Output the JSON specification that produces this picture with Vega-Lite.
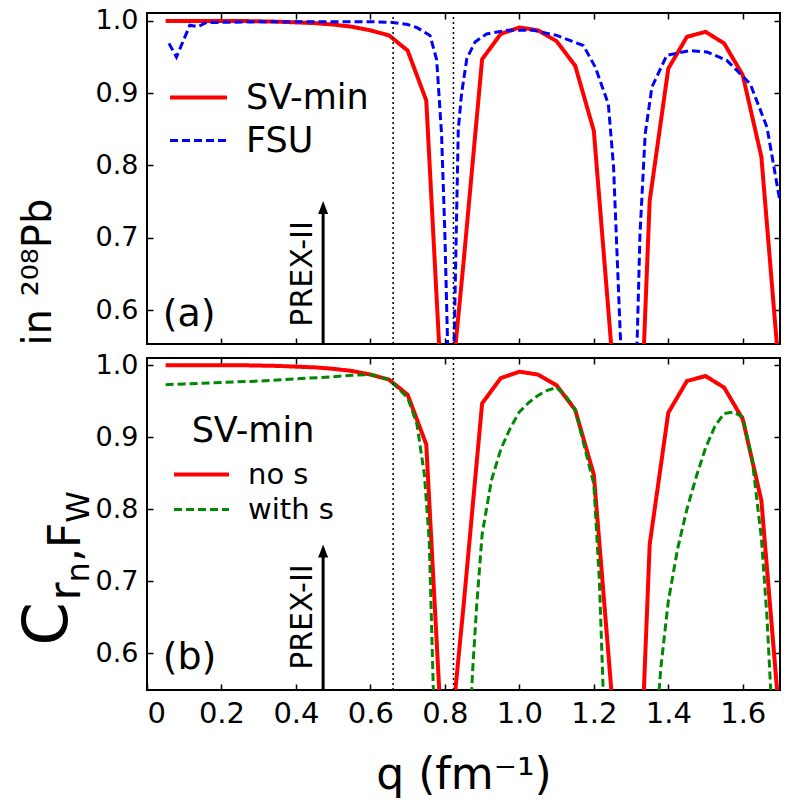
{
  "$schema": "https://vega.github.io/schema/vega-lite/v6.json",
  "autosize": "none",
  "padding": {"left": 147, "top": 13, "right": 641, "bottom": 792},
  "background": "white",
  "spacing": 3,
  "resolve": {"scale": {"color": "independent", "strokeDash": "independent", "strokeWidth": "independent"}, "legend": {"color": "independent", "strokeDash": "independent"}},
  "config": {
    "font": "DejaVu Sans",
    "view": {"stroke": "black", "strokeWidth": 2},
    "axis": {"domain": false, "grid": false, "tickColor": "black", "tickWidth": 1.5, "labelColor": "black", "titleColor": "black", "titleFontWeight": "normal", "labelFont": "DejaVu Sans", "titleFont": "DejaVu Sans"},
    "legend": {"labelFont": "DejaVu Sans", "titleFont": "DejaVu Sans", "labelColor": "black", "titleColor": "black", "titleFontWeight": "normal"},
    "text": {"font": "DejaVu Sans"}
  },
  "datasets": {
    "a": [
      {"q": 0.05, "C": 1.0, "series": "SV-min"}, {"q": 0.10, "C": 1.0, "series": "SV-min"}, {"q": 0.15, "C": 1.0, "series": "SV-min"}, {"q": 0.20, "C": 1.0, "series": "SV-min"}, {"q": 0.25, "C": 1.0, "series": "SV-min"}, {"q": 0.30, "C": 0.9995, "series": "SV-min"}, {"q": 0.35, "C": 0.999, "series": "SV-min"}, {"q": 0.40, "C": 0.998, "series": "SV-min"}, {"q": 0.45, "C": 0.997, "series": "SV-min"}, {"q": 0.50, "C": 0.995, "series": "SV-min"}, {"q": 0.55, "C": 0.992, "series": "SV-min"}, {"q": 0.60, "C": 0.987, "series": "SV-min"}, {"q": 0.65, "C": 0.980, "series": "SV-min"}, {"q": 0.70, "C": 0.959, "series": "SV-min"}, {"q": 0.75, "C": 0.890, "series": "SV-min"}, {"q": 0.80, "C": 0.40, "series": "SV-min"}, {"q": 0.85, "C": 0.665, "series": "SV-min"}, {"q": 0.90, "C": 0.947, "series": "SV-min"}, {"q": 0.95, "C": 0.982, "series": "SV-min"}, {"q": 1.00, "C": 0.991, "series": "SV-min"}, {"q": 1.05, "C": 0.987, "series": "SV-min"}, {"q": 1.10, "C": 0.972, "series": "SV-min"}, {"q": 1.15, "C": 0.938, "series": "SV-min"}, {"q": 1.20, "C": 0.848, "series": "SV-min"}, {"q": 1.25, "C": 0.53, "series": "SV-min"}, {"q": 1.30, "C": 0.10, "series": "SV-min"}, {"q": 1.35, "C": 0.751, "series": "SV-min"}, {"q": 1.40, "C": 0.934, "series": "SV-min"}, {"q": 1.45, "C": 0.978, "series": "SV-min"}, {"q": 1.50, "C": 0.985, "series": "SV-min"}, {"q": 1.55, "C": 0.969, "series": "SV-min"}, {"q": 1.60, "C": 0.925, "series": "SV-min"}, {"q": 1.65, "C": 0.812, "series": "SV-min"}, {"q": 1.70, "C": 0.50, "series": "SV-min"},
      {"q": 0.059, "C": 0.969, "series": "FSU"}, {"q": 0.079, "C": 0.950, "series": "FSU"}, {"q": 0.115, "C": 0.994, "series": "FSU"}, {"q": 0.137, "C": 0.992, "series": "FSU"}, {"q": 0.16, "C": 0.998, "series": "FSU"}, {"q": 0.20, "C": 0.998, "series": "FSU"}, {"q": 0.30, "C": 0.999, "series": "FSU"}, {"q": 0.40, "C": 0.999, "series": "FSU"}, {"q": 0.50, "C": 0.999, "series": "FSU"}, {"q": 0.60, "C": 0.999, "series": "FSU"}, {"q": 0.66, "C": 0.998, "series": "FSU"}, {"q": 0.70, "C": 0.995, "series": "FSU"}, {"q": 0.724, "C": 0.991, "series": "FSU"}, {"q": 0.76, "C": 0.980, "series": "FSU"}, {"q": 0.778, "C": 0.946, "series": "FSU"}, {"q": 0.791, "C": 0.844, "series": "FSU"}, {"q": 0.80, "C": 0.705, "series": "FSU"}, {"q": 0.817, "C": 0.35, "series": "FSU"}, {"q": 0.836, "C": 0.85, "series": "FSU"}, {"q": 0.845, "C": 0.90, "series": "FSU"}, {"q": 0.859, "C": 0.948, "series": "FSU"}, {"q": 0.881, "C": 0.971, "series": "FSU"}, {"q": 0.912, "C": 0.982, "series": "FSU"}, {"q": 0.966, "C": 0.987, "series": "FSU"}, {"q": 1.038, "C": 0.987, "series": "FSU"}, {"q": 1.10, "C": 0.980, "series": "FSU"}, {"q": 1.172, "C": 0.966, "series": "FSU"}, {"q": 1.204, "C": 0.936, "series": "FSU"}, {"q": 1.239, "C": 0.885, "series": "FSU"}, {"q": 1.253, "C": 0.798, "series": "FSU"}, {"q": 1.271, "C": 0.567, "series": "FSU"}, {"q": 1.295, "C": 0.35, "series": "FSU"}, {"q": 1.316, "C": 0.55, "series": "FSU"}, {"q": 1.324, "C": 0.705, "series": "FSU"}, {"q": 1.338, "C": 0.844, "series": "FSU"}, {"q": 1.356, "C": 0.9085, "series": "FSU"}, {"q": 1.396, "C": 0.9525, "series": "FSU"}, {"q": 1.459, "C": 0.959, "series": "FSU"}, {"q": 1.504, "C": 0.957, "series": "FSU"}, {"q": 1.557, "C": 0.9455, "series": "FSU"}, {"q": 1.62, "C": 0.913, "series": "FSU"}, {"q": 1.665, "C": 0.853, "series": "FSU"}, {"q": 1.70, "C": 0.75, "series": "FSU"}
    ],
    "b": [
      {"q": 0.05, "C": 1.0, "series": "no s"}, {"q": 0.10, "C": 1.0, "series": "no s"}, {"q": 0.15, "C": 1.0, "series": "no s"}, {"q": 0.20, "C": 1.0, "series": "no s"}, {"q": 0.25, "C": 1.0, "series": "no s"}, {"q": 0.30, "C": 0.9995, "series": "no s"}, {"q": 0.35, "C": 0.999, "series": "no s"}, {"q": 0.40, "C": 0.998, "series": "no s"}, {"q": 0.45, "C": 0.997, "series": "no s"}, {"q": 0.50, "C": 0.995, "series": "no s"}, {"q": 0.55, "C": 0.992, "series": "no s"}, {"q": 0.60, "C": 0.987, "series": "no s"}, {"q": 0.65, "C": 0.980, "series": "no s"}, {"q": 0.70, "C": 0.959, "series": "no s"}, {"q": 0.75, "C": 0.890, "series": "no s"}, {"q": 0.80, "C": 0.40, "series": "no s"}, {"q": 0.85, "C": 0.665, "series": "no s"}, {"q": 0.90, "C": 0.947, "series": "no s"}, {"q": 0.95, "C": 0.982, "series": "no s"}, {"q": 1.00, "C": 0.991, "series": "no s"}, {"q": 1.05, "C": 0.987, "series": "no s"}, {"q": 1.10, "C": 0.972, "series": "no s"}, {"q": 1.15, "C": 0.938, "series": "no s"}, {"q": 1.20, "C": 0.848, "series": "no s"}, {"q": 1.25, "C": 0.53, "series": "no s"}, {"q": 1.30, "C": 0.10, "series": "no s"}, {"q": 1.35, "C": 0.751, "series": "no s"}, {"q": 1.40, "C": 0.934, "series": "no s"}, {"q": 1.45, "C": 0.978, "series": "no s"}, {"q": 1.50, "C": 0.985, "series": "no s"}, {"q": 1.55, "C": 0.969, "series": "no s"}, {"q": 1.60, "C": 0.925, "series": "no s"}, {"q": 1.65, "C": 0.812, "series": "no s"}, {"q": 1.70, "C": 0.50, "series": "no s"},
      {"q": 0.05, "C": 0.973, "series": "with s"}, {"q": 0.10, "C": 0.974, "series": "with s"}, {"q": 0.20, "C": 0.976, "series": "with s"}, {"q": 0.30, "C": 0.978, "series": "with s"}, {"q": 0.40, "C": 0.981, "series": "with s"}, {"q": 0.50, "C": 0.984, "series": "with s"}, {"q": 0.55, "C": 0.986, "series": "with s"}, {"q": 0.60, "C": 0.987, "series": "with s"}, {"q": 0.65, "C": 0.980, "series": "with s"}, {"q": 0.70, "C": 0.955, "series": "with s"}, {"q": 0.725, "C": 0.918, "series": "with s"}, {"q": 0.745, "C": 0.848, "series": "with s"}, {"q": 0.758, "C": 0.756, "series": "with s"}, {"q": 0.77, "C": 0.53, "series": "with s"}, {"q": 0.82, "C": 0.2, "series": "with s"}, {"q": 0.87, "C": 0.53, "series": "with s"}, {"q": 0.875, "C": 0.58, "series": "with s"}, {"q": 0.885, "C": 0.663, "series": "with s"}, {"q": 0.90, "C": 0.765, "series": "with s"}, {"q": 0.925, "C": 0.84, "series": "with s"}, {"q": 0.95, "C": 0.883, "series": "with s"}, {"q": 0.975, "C": 0.912, "series": "with s"}, {"q": 1.00, "C": 0.935, "series": "with s"}, {"q": 1.025, "C": 0.948, "series": "with s"}, {"q": 1.05, "C": 0.958, "series": "with s"}, {"q": 1.075, "C": 0.965, "series": "with s"}, {"q": 1.10, "C": 0.969, "series": "with s"}, {"q": 1.125, "C": 0.957, "series": "with s"}, {"q": 1.15, "C": 0.938, "series": "with s"}, {"q": 1.20, "C": 0.835, "series": "with s"}, {"q": 1.215, "C": 0.70, "series": "with s"}, {"q": 1.225, "C": 0.55, "series": "with s"}, {"q": 1.30, "C": 0.2, "series": "with s"}, {"q": 1.376, "C": 0.553, "series": "with s"}, {"q": 1.38, "C": 0.58, "series": "with s"}, {"q": 1.40, "C": 0.672, "series": "with s"}, {"q": 1.425, "C": 0.745, "series": "with s"}, {"q": 1.45, "C": 0.80, "series": "with s"}, {"q": 1.475, "C": 0.845, "series": "with s"}, {"q": 1.50, "C": 0.885, "series": "with s"}, {"q": 1.525, "C": 0.915, "series": "with s"}, {"q": 1.55, "C": 0.933, "series": "with s"}, {"q": 1.575, "C": 0.935, "series": "with s"}, {"q": 1.60, "C": 0.928, "series": "with s"}, {"q": 1.625, "C": 0.87, "series": "with s"}, {"q": 1.65, "C": 0.76, "series": "with s"}, {"q": 1.665, "C": 0.65, "series": "with s"}, {"q": 1.675, "C": 0.55, "series": "with s"}, {"q": 1.70, "C": 0.3, "series": "with s"}
    ],
    "vlines": [{"q": 0.661}, {"q": 0.823}],
    "one": [{"k": 1}]
  },
  "vconcat": [
    {
      "width": 633,
      "height": 331,
      "layer": [
        {
          "data": {"name": "a"},
          "mark": {"type": "line", "clip": true},
          "encoding": {
            "x": {"field": "q", "type": "quantitative", "scale": {"domain": [0, 1.7], "nice": false, "zero": false},
              "axis": {"orient": "bottom", "values": [0.2, 0.4, 0.6, 0.8, 1.0, 1.2, 1.4, 1.6], "labels": false, "title": null, "tickSize": -6}},
            "y": {"field": "C", "type": "quantitative", "scale": {"domain": [0.553, 1.011], "nice": false, "zero": false},
              "axis": {"orient": "left", "values": [0.6, 0.7, 0.8, 0.9, 1.0], "format": ".1f", "tickSize": -6, "labelPadding": 15, "labelFontSize": 27,
                "title": "in ²⁰⁸Pb", "titleFontSize": 40, "titleAngle": 270, "titleX": -97, "titleY": 332, "titleAlign": "left", "titleBaseline": "alphabetic"}},
            "color": {"field": "series", "type": "nominal", "scale": {"domain": ["SV-min", "FSU"], "range": ["#ff0000", "#0000ff"]},
              "legend": {"orient": "none", "legendX": 21, "legendY": 63, "title": null, "symbolType": "stroke", "symbolSize": 3249, "symbolStrokeWidth": 4, "labelFontSize": 35, "labelOffset": 17, "clipHeight": 43, "rowPadding": 0, "padding": 0}},
            "strokeDash": {"field": "series", "type": "nominal", "scale": {"domain": ["SV-min", "FSU"], "range": [[1, 0], [8, 4]]},
              "legend": {"orient": "none", "legendX": 21, "legendY": 63, "title": null, "symbolType": "stroke", "symbolSize": 3249, "symbolStrokeWidth": 4, "labelFontSize": 35, "labelOffset": 17, "clipHeight": 43, "rowPadding": 0, "padding": 0}},
            "strokeWidth": {"field": "series", "type": "nominal", "scale": {"domain": ["SV-min", "FSU"], "range": [4, 3]}, "legend": null}
          }
        },
        {
          "data": {"name": "vlines"},
          "mark": {"type": "rule", "strokeDash": [2, 3], "strokeWidth": 1.5, "color": "black"},
          "encoding": {
            "x": {"field": "q", "type": "quantitative", "scale": {"domain": [0, 1.7], "nice": false, "zero": false},
              "axis": {"orient": "top", "values": [0.2, 0.4, 0.6, 0.8, 1.0, 1.2, 1.4, 1.6], "labels": false, "title": null, "tickSize": -6}},
            "y": {"datum": 0.553, "type": "quantitative", "scale": {"domain": [0.553, 1.011], "nice": false, "zero": false},
              "axis": {"orient": "right", "values": [0.6, 0.7, 0.8, 0.9, 1.0], "labels": false, "title": null, "tickSize": -6}},
            "y2": {"datum": 1.011}
          }
        },
        {
          "data": {"name": "one"},
          "mark": {"type": "rule", "strokeWidth": 3, "color": "black"},
          "encoding": {
            "x": {"datum": 0.473, "type": "quantitative", "scale": {"domain": [0, 1.7], "nice": false, "zero": false}, "axis": null},
            "y": {"datum": 0.553, "type": "quantitative", "scale": {"domain": [0.553, 1.011], "nice": false, "zero": false}, "axis": null},
            "y2": {"datum": 0.735}
          }
        },
        {
          "data": {"name": "one"},
          "mark": {"type": "point", "shape": "M0,-1.3L-0.5,0L0.5,0Z", "size": 400, "filled": true, "color": "black", "opacity": 1},
          "encoding": {
            "x": {"datum": 0.473, "type": "quantitative", "scale": {"domain": [0, 1.7], "nice": false, "zero": false}, "axis": null},
            "y": {"datum": 0.733, "type": "quantitative", "scale": {"domain": [0.553, 1.011], "nice": false, "zero": false}, "axis": null}
          }
        },
        {
          "data": {"name": "one"},
          "mark": {"type": "text", "text": "PREX-II", "angle": 270, "align": "left", "baseline": "alphabetic", "fontSize": 30, "color": "black"},
          "encoding": {
            "x": {"datum": 0.442, "type": "quantitative", "scale": {"domain": [0, 1.7], "nice": false, "zero": false}, "axis": null},
            "y": {"datum": 0.577, "type": "quantitative", "scale": {"domain": [0.553, 1.011], "nice": false, "zero": false}, "axis": null}
          }
        },
        {
          "data": {"name": "one"},
          "mark": {"type": "text", "text": "(a)", "align": "left", "baseline": "alphabetic", "fontSize": 38, "color": "black"},
          "encoding": {
            "x": {"datum": 0.042, "type": "quantitative", "scale": {"domain": [0, 1.7], "nice": false, "zero": false}, "axis": null},
            "y": {"datum": 0.578, "type": "quantitative", "scale": {"domain": [0.553, 1.011], "nice": false, "zero": false}, "axis": null}
          }
        }
      ],
      "resolve": {"scale": {"x": "independent", "y": "independent"}, "axis": {"x": "independent", "y": "independent"}}
    },
    {
      "width": 633,
      "height": 332,
      "layer": [
        {
          "data": {"name": "b"},
          "mark": {"type": "line", "clip": true},
          "encoding": {
            "x": {"field": "q", "type": "quantitative", "scale": {"domain": [0, 1.7], "nice": false, "zero": false},
              "axis": {"orient": "bottom", "values": [0, 0.2, 0.4, 0.6, 0.8, 1.0, 1.2, 1.4, 1.6], "labelExpr": "datum.value == 0 ? '0' : format(datum.value, '.1f')", "tickSize": -6, "labelFontSize": 29, "labelPadding": 15,
                "title": "q (fm⁻¹)", "titleFontSize": 44, "titleY": 98, "titleBaseline": "alphabetic"}},
            "y": {"field": "C", "type": "quantitative", "scale": {"domain": [0.549, 1.010], "nice": false, "zero": false},
              "axis": {"orient": "left", "values": [0.6, 0.7, 0.8, 0.9, 1.0], "format": ".1f", "tickSize": -6, "labelPadding": 15, "labelFontSize": 27,
                "title": "C", "titleFontSize": 62, "titleAngle": 270, "titleX": -81, "titleY": 287, "titleAlign": "left", "titleBaseline": "alphabetic"}},
            "color": {"field": "series", "type": "nominal", "scale": {"domain": ["no s", "with s"], "range": ["#ff0000", "#008800"]},
              "legend": {"orient": "none", "legendX": 25, "legendY": 56, "title": "SV-min", "titleFontSize": 35, "titleAnchor": "middle", "titleBaseline": "top", "titlePadding": 8, "symbolType": "stroke", "symbolSize": 3025, "symbolStrokeWidth": 4, "labelFontSize": 29, "labelOffset": 17, "clipHeight": 35, "rowPadding": 0, "padding": 0}},
            "strokeDash": {"field": "series", "type": "nominal", "scale": {"domain": ["no s", "with s"], "range": [[1, 0], [8, 4]]},
              "legend": {"orient": "none", "legendX": 25, "legendY": 56, "title": "SV-min", "titleFontSize": 35, "titleAnchor": "middle", "titleBaseline": "top", "titlePadding": 8, "symbolType": "stroke", "symbolSize": 3025, "symbolStrokeWidth": 4, "labelFontSize": 29, "labelOffset": 17, "clipHeight": 35, "rowPadding": 0, "padding": 0}},
            "strokeWidth": {"field": "series", "type": "nominal", "scale": {"domain": ["no s", "with s"], "range": [4, 3]}, "legend": null}
          }
        },
        {
          "data": {"name": "vlines"},
          "mark": {"type": "rule", "strokeDash": [2, 3], "strokeWidth": 1.5, "color": "black"},
          "encoding": {
            "x": {"field": "q", "type": "quantitative", "scale": {"domain": [0, 1.7], "nice": false, "zero": false},
              "axis": {"orient": "top", "values": [0.2, 0.4, 0.6, 0.8, 1.0, 1.2, 1.4, 1.6], "labels": false, "title": null, "tickSize": -6}},
            "y": {"datum": 0.549, "type": "quantitative", "scale": {"domain": [0.549, 1.010], "nice": false, "zero": false},
              "axis": {"orient": "right", "values": [0.6, 0.7, 0.8, 0.9, 1.0], "labels": false, "title": null, "tickSize": -6}},
            "y2": {"datum": 1.010}
          }
        },
        {
          "data": {"name": "one"},
          "mark": {"type": "rule", "strokeWidth": 3, "color": "black"},
          "encoding": {
            "x": {"datum": 0.473, "type": "quantitative", "scale": {"domain": [0, 1.7], "nice": false, "zero": false}, "axis": null},
            "y": {"datum": 0.549, "type": "quantitative", "scale": {"domain": [0.549, 1.010], "nice": false, "zero": false},
              "axis": {"orient": "left", "labels": false, "ticks": false, "domain": false, "title": "r", "titleFontSize": 44, "titleAngle": 270, "titleX": -68, "titleY": 242, "titleAlign": "left", "titleBaseline": "alphabetic"}},
            "y2": {"datum": 0.735}
          }
        },
        {
          "data": {"name": "one"},
          "mark": {"type": "point", "shape": "M0,-1.3L-0.5,0L0.5,0Z", "size": 400, "filled": true, "color": "black", "opacity": 1},
          "encoding": {
            "x": {"datum": 0.473, "type": "quantitative", "scale": {"domain": [0, 1.7], "nice": false, "zero": false}, "axis": null},
            "y": {"datum": 0.733, "type": "quantitative", "scale": {"domain": [0.549, 1.010], "nice": false, "zero": false},
              "axis": {"orient": "left", "labels": false, "ticks": false, "domain": false, "title": "n", "titleFontSize": 32, "titleAngle": 270, "titleX": -59, "titleY": 224, "titleAlign": "left", "titleBaseline": "alphabetic"}}
          }
        },
        {
          "data": {"name": "one"},
          "mark": {"type": "text", "text": "PREX-II", "angle": 270, "align": "left", "baseline": "alphabetic", "fontSize": 30, "color": "black"},
          "encoding": {
            "x": {"datum": 0.442, "type": "quantitative", "scale": {"domain": [0, 1.7], "nice": false, "zero": false}, "axis": null},
            "y": {"datum": 0.577, "type": "quantitative", "scale": {"domain": [0.549, 1.010], "nice": false, "zero": false},
              "axis": {"orient": "left", "labels": false, "ticks": false, "domain": false, "title": ",F", "titleFontSize": 44, "titleAngle": 270, "titleX": -68, "titleY": 203.6, "titleAlign": "left", "titleBaseline": "alphabetic"}}
          }
        },
        {
          "data": {"name": "one"},
          "mark": {"type": "text", "text": "(b)", "align": "left", "baseline": "alphabetic", "fontSize": 38, "color": "black"},
          "encoding": {
            "x": {"datum": 0.042, "type": "quantitative", "scale": {"domain": [0, 1.7], "nice": false, "zero": false}, "axis": null},
            "y": {"datum": 0.578, "type": "quantitative", "scale": {"domain": [0.549, 1.010], "nice": false, "zero": false},
              "axis": {"orient": "left", "labels": false, "ticks": false, "domain": false, "title": "W", "titleFontSize": 32, "titleAngle": 270, "titleX": -59, "titleY": 164.3, "titleAlign": "left", "titleBaseline": "alphabetic"}}
          }
        }
      ],
      "resolve": {"scale": {"x": "independent", "y": "independent"}, "axis": {"x": "independent", "y": "independent"}}
    }
  ]
}
